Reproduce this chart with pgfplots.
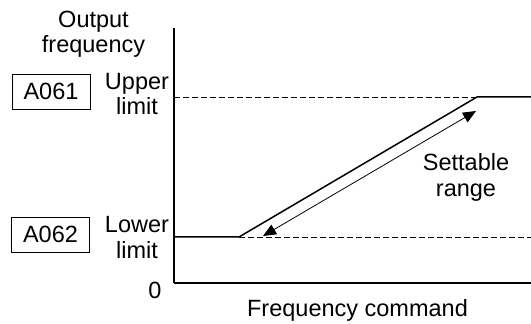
\documentclass[border=0pt]{standalone}
\usepackage{pgfplots}
\pgfplotsset{compat=1.18}
\usepackage{fontspec}
\setmainfont{Liberation Sans}
\usetikzlibrary{arrows.meta}
\tikzset{lbl/.style={font=\fontsize{23.5bp}{25bp}\selectfont, inner sep=0pt, anchor=base},
         pbox/.style={font=\fontsize{23.5bp}{25bp}\selectfont, inner sep=0pt, draw, line width=0.9bp,
                      minimum width=78bp, minimum height=35bp}}
\begin{document}
\begin{tikzpicture}
\begin{axis}[
    scale only axis,
    width=357bp, height=255bp,
    xmin=0, xmax=357, ymin=0, ymax=255,
    enlargelimits=false,
    axis x line=bottom, axis y line=left,
    axis line style={-, line width=1.3bp},
    xtick=\empty, ytick=\empty,
    clip=false,
]
% output frequency against command
\addplot[black, line width=1.5bp] coordinates {(0,46) (65,46) (303,186) (357,186)};
% limit levels
\addplot[black, line width=0.8bp, dash pattern=on 6bp off 3bp] coordinates {(0,186) (303,186)};
\addplot[black, line width=0.8bp, dash pattern=on 6bp off 3bp] coordinates {(65,46) (357,46)};
% settable range
\addplot[black, line width=0.8bp, {Triangle[length=13bp,width=11bp]}-{Triangle[length=13bp,width=11bp]}]
    coordinates {(89,47) (302,172)};

\node[lbl] at (axis cs:-80.5,255) {Output};
\node[lbl] at (axis cs:-80.5,230) {frequency};
\node[pbox] at (axis cs:-123,191.5) {A061};
\node[pbox] at (axis cs:-123.5,48.5) {A062};
\node[lbl] at (axis cs:-37,193) {Upper};
\node[lbl] at (axis cs:-37,168) {limit};
\node[lbl] at (axis cs:-37,50) {Lower};
\node[lbl] at (axis cs:-37,25) {limit};
\node[lbl] at (axis cs:-19,-15) {0};
\node[lbl] at (axis cs:292,112) {Settable};
\node[lbl] at (axis cs:292,86) {range};
\node[lbl] at (axis cs:183.5,-33.7) {Frequency command};

\coordinate (bl) at (axis cs:-174,-41);
\coordinate (tr) at (axis cs:357,283);
\end{axis}
\pgfresetboundingbox
\path[use as bounding box] (bl) rectangle (tr);
\end{tikzpicture}
\end{document}
